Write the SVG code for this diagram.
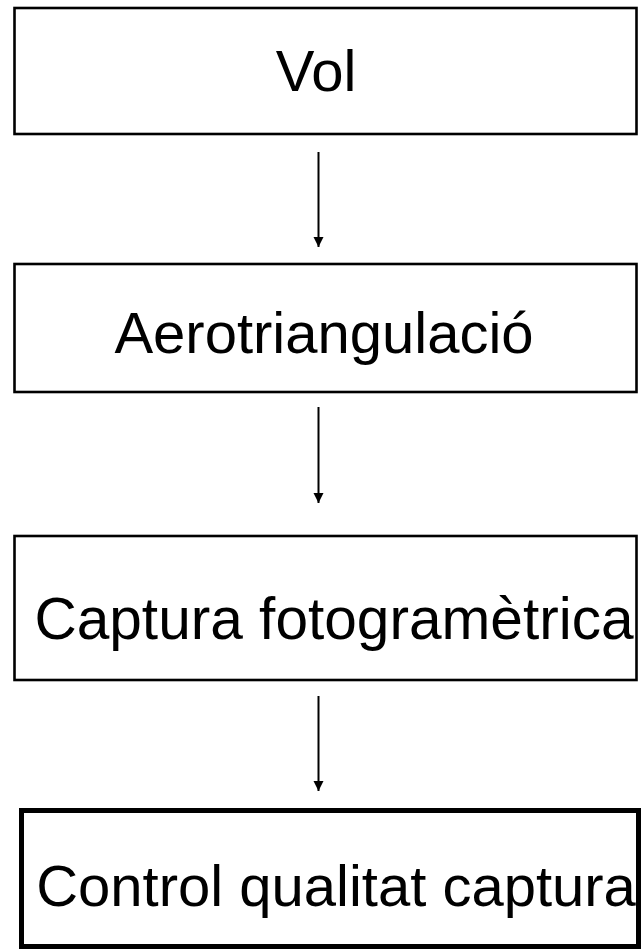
<svg xmlns="http://www.w3.org/2000/svg" width="644" height="952" viewBox="0 0 644 952">
<style>
.box{fill:#fff;stroke:#000;stroke-width:2.6}
.thick{fill:#fff;stroke:#000;stroke-width:5}
.lbl{font-family:"Liberation Sans",Arial,sans-serif;font-size:58px;fill:#000;text-anchor:middle}
.big{font-size:58.6px}
.conn{stroke:#000;stroke-width:2;fill:none;marker-end:url(#ah)}
</style>
<defs>
<marker id="ah" markerUnits="userSpaceOnUse" markerWidth="10" markerHeight="11" refX="10" refY="5" orient="auto">
<path d="M0,0 L10,5 L0,10 Z" fill="#000"/>
</marker>
</defs>
<rect width="644" height="952" fill="#fff"/>
<g id="n1"><rect class="box" x="14.5" y="8" width="622" height="126"/><text class="lbl" x="316" y="91">Vol</text></g>
<g id="n2"><rect class="box" x="14.5" y="264" width="622" height="128"/><text class="lbl" x="324" y="353">Aerotriangulació</text></g>
<g id="n3"><rect class="box" x="14.5" y="536" width="622" height="144"/><text class="lbl big" x="334" y="639">Captura fotogramètrica</text></g>
<g id="n4"><rect class="thick" x="21.5" y="810.5" width="617" height="136"/><text class="lbl" x="336" y="906">Control qualitat captura</text></g>
<g id="connectors">
<line class="conn" x1="318.5" y1="152" x2="318.5" y2="247"/>
<line class="conn" x1="318.5" y1="407" x2="318.5" y2="503"/>
<line class="conn" x1="318.5" y1="696" x2="318.5" y2="791"/>
</g>
</svg>
